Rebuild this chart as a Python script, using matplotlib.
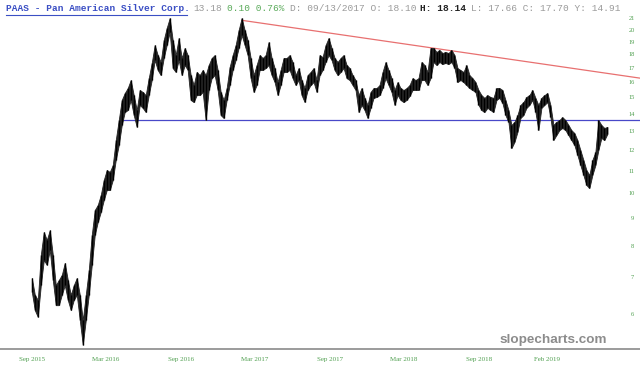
import matplotlib
matplotlib.use('Agg')
import matplotlib.pyplot as plt
from matplotlib.lines import Line2D
import pandas as pd

# ─── Data (one bar per ~week) ────────────────────────────────────────────────

highs = [
    6.98, 6.50, 6.36, 7.70, 8.48, 8.20, 8.55, 7.70, 6.77, 6.92,
    7.07, 7.44, 6.92, 6.50, 6.77, 6.98, 6.50, 5.84, 6.50, 7.22,
    8.38, 9.31, 9.51, 9.92, 10.57, 11.03, 10.94, 11.26, 12.52, 13.63,
    14.84, 15.28, 15.61, 16.15, 15.15, 14.22, 15.48, 15.35, 15.15, 16.28,
    17.36, 18.73, 17.95, 17.43, 19.13, 20.14, 21.00, 19.13, 17.95, 19.30,
    17.73, 18.50, 17.95, 16.49, 15.81, 16.71, 16.49, 16.85, 16.49, 17.21,
    17.73, 17.95, 16.85, 15.35, 14.84, 15.61, 17.07, 17.95, 18.73, 19.96,
    21.00, 19.96, 19.13, 17.73, 16.49, 17.21, 17.95, 17.73, 17.95, 18.97,
    17.73, 16.99, 16.01, 16.85, 17.73, 17.73, 17.95, 17.43, 16.49, 16.99,
    16.15, 15.61, 16.49, 16.71, 16.99, 16.15, 17.95, 17.80, 18.73, 19.30,
    18.50, 17.73, 17.43, 17.73, 17.95, 17.21, 16.99, 16.49, 16.15, 15.15,
    15.61, 14.97, 14.53, 15.35, 15.61, 15.61, 15.81, 16.71, 17.43, 16.85,
    16.28, 15.48, 16.01, 15.61, 15.48, 15.61, 15.81, 16.28, 16.15, 16.28,
    17.43, 17.21, 16.71, 18.50, 18.50, 18.19, 18.34, 18.11, 18.19, 18.11,
    18.34, 17.95, 16.99, 16.85, 16.71, 17.21, 16.49, 16.28, 16.01, 15.48,
    15.15, 14.97, 15.15, 15.03, 14.97, 15.61, 15.61, 15.48, 14.84, 14.22,
    13.35, 13.52, 13.92, 14.53, 14.71, 15.03, 15.15, 15.48, 14.97, 14.53,
    14.97, 15.15, 15.28, 14.53, 13.35, 13.52, 13.63, 13.80, 13.63, 13.35,
    13.06, 12.90, 12.52, 12.00, 11.51, 11.03, 10.80, 11.51, 11.90, 13.63,
    13.35, 13.18, 13.24,
]
lows = [
    6.58, 6.09, 5.92, 6.77, 7.53, 7.38, 7.86, 6.92, 6.22, 6.22,
    6.50, 6.77, 6.36, 6.09, 6.36, 6.50, 5.84, 5.26, 5.84, 6.50,
    7.38, 8.38, 8.85, 9.23, 9.71, 10.13, 10.13, 10.57, 11.51, 12.26,
    13.35, 14.10, 14.22, 14.84, 13.92, 13.24, 14.53, 14.35, 14.10, 15.15,
    16.15, 17.58, 16.85, 16.49, 17.73, 18.73, 19.79, 16.99, 16.71, 17.58,
    16.49, 17.21, 16.85, 14.84, 14.71, 15.15, 15.15, 15.35, 13.63, 15.48,
    16.28, 16.49, 15.48, 13.92, 13.75, 14.84, 15.81, 16.85, 17.58, 18.50,
    19.54, 18.73, 17.95, 16.28, 15.35, 15.81, 16.85, 16.85, 16.99, 17.21,
    16.49, 16.01, 15.15, 15.81, 16.71, 16.71, 16.85, 16.28, 15.81, 16.15,
    15.15, 14.71, 15.48, 15.81, 16.01, 15.35, 16.49, 16.85, 17.43, 17.95,
    17.58, 16.85, 16.49, 16.71, 16.99, 16.28, 16.15, 15.81, 15.48, 14.10,
    14.53, 14.22, 13.75, 14.35, 14.97, 15.03, 15.15, 15.61, 16.28, 15.81,
    15.35, 14.53, 15.15, 14.84, 14.71, 14.84, 15.09, 15.48, 15.48, 15.48,
    16.15, 16.15, 15.81, 16.28, 17.43, 17.21, 17.43, 17.28, 17.36, 17.28,
    17.43, 16.99, 16.01, 16.15, 16.01, 15.81, 15.61, 15.48, 15.35, 14.53,
    14.22, 14.10, 14.35, 14.22, 14.10, 14.84, 14.97, 14.65, 13.92, 13.52,
    12.10, 12.42, 12.96, 13.75, 13.92, 14.35, 14.53, 14.84, 14.10, 13.06,
    14.35, 14.53, 14.71, 13.80, 12.52, 12.79, 13.06, 13.18, 13.06, 12.79,
    12.52, 12.26, 11.75, 11.26, 10.80, 10.35, 10.22, 10.80, 11.26, 12.00,
    12.63, 12.52, 12.85,
]
first_day, last_day = '2015-09-01', '2019-07-13'

support_level = 13.64
support_from = '2016-04-11'
resist_dates = ['2017-01-28', '2019-10-01']
resist_vals = [20.8, 16.28]

y_ticks = list(range(6, 22))
x_tick_dates = ['2015-09-01', '2016-03-01', '2016-09-01', '2017-03-01',
                '2017-09-01', '2018-03-01', '2018-09-01', '2019-02-15']
x_tick_labels = ['Sep 2015', 'Mar 2016', 'Sep 2016', 'Mar 2017',
                 'Sep 2017', 'Mar 2018', 'Sep 2018', 'Feb 2019']

# ─── Styles ──────────────────────────────────────────────────────────────────

GREEN = '#4f9f4f'
GREY_TXT = '#9a9a9a'
BLUE_TXT = '#3b4fc4'

W, H = 640, 373
fig = plt.figure(figsize=(W / 100, H / 100), dpi=100)
fig.patch.set_facecolor('white')
ax = fig.add_axes([0, 24 / H, 1, 349 / H])

dates = pd.date_range(first_day, last_day, periods=len(highs))
# dense daily bars look like a dark ribbon: band + individual ranges
ax.fill_between(dates, lows, highs, color='#262626', lw=0.6, zorder=3)
ax.vlines(dates, lows, highs, color='black', lw=1.0, zorder=4)

ax.plot([pd.Timestamp(support_from), pd.Timestamp(resist_dates[1])],
        [support_level, support_level], color='#4848c8', lw=0.9, zorder=2)
ax.plot(pd.to_datetime(resist_dates), resist_vals, color='#e87070', lw=0.9, zorder=2)

ax.set_yscale('log')
ax.set_ylim(5.166, 22.67)
ax.set_xlim(pd.Timestamp('2015-06-15'), pd.Timestamp('2019-10-01'))
ax.set_yticks(y_ticks, labels=[str(v) for v in y_ticks])
ax.minorticks_off()
ax.yaxis.tick_right()
ax.tick_params(axis='y', length=0, pad=-5.8, labelsize=4.6, labelcolor=GREEN)
for lbl in ax.get_yticklabels():
    lbl.set_ha('center')
    lbl.set_fontfamily('Liberation Serif')

ax.set_xticks(pd.to_datetime(x_tick_dates), labels=x_tick_labels)
ax.tick_params(axis='x', length=0, pad=6, labelsize=5, labelcolor=GREEN)
for lbl in ax.get_xticklabels():
    lbl.set_fontfamily('Liberation Serif')

for s in ['top', 'left', 'right']:
    ax.spines[s].set_visible(False)
ax.spines['bottom'].set_color('#8a8a8a')
ax.spines['bottom'].set_linewidth(1.2)

# watermark
ax.text(553 / W, 1 - 340 / 349, 'slopecharts.com', transform=ax.transAxes,
        fontsize=9.7, fontweight='bold', color='#8c8c8c', family='Liberation Sans',
        ha='center', va='center')

# ─── Header line ─────────────────────────────────────────────────────────────

pieces = [
    (0, 'PAAS - Pan American Silver Corp.', BLUE_TXT, 'bold'),
    (33, '13.18', GREY_TXT, 'normal'),
    (39, '0.10 0.76%', '#5aaa5a', 'normal'),
    (50, 'D: 09/13/2017 O: 18.10', GREY_TXT, 'normal'),
    (73, 'H: 18.14', '#222222', 'bold'),
    (82, 'L: 17.66 C: 17.70 Y: 14.91', GREY_TXT, 'normal'),
]
cw = 5.67
for start, txt, col, wt in pieces:
    fig.text((6 + start * cw) / W, 1 - 8.5 / H, txt, color=col, fontweight=wt,
             family='Liberation Mono', fontsize=6.8, ha='left', va='center')
fig.add_artist(Line2D([6 / W, (6 + 32 * cw) / W], [1 - 15 / H] * 2,
                      color=BLUE_TXT, lw=0.8))

plt.savefig('out.png', dpi=100, facecolor='white')
